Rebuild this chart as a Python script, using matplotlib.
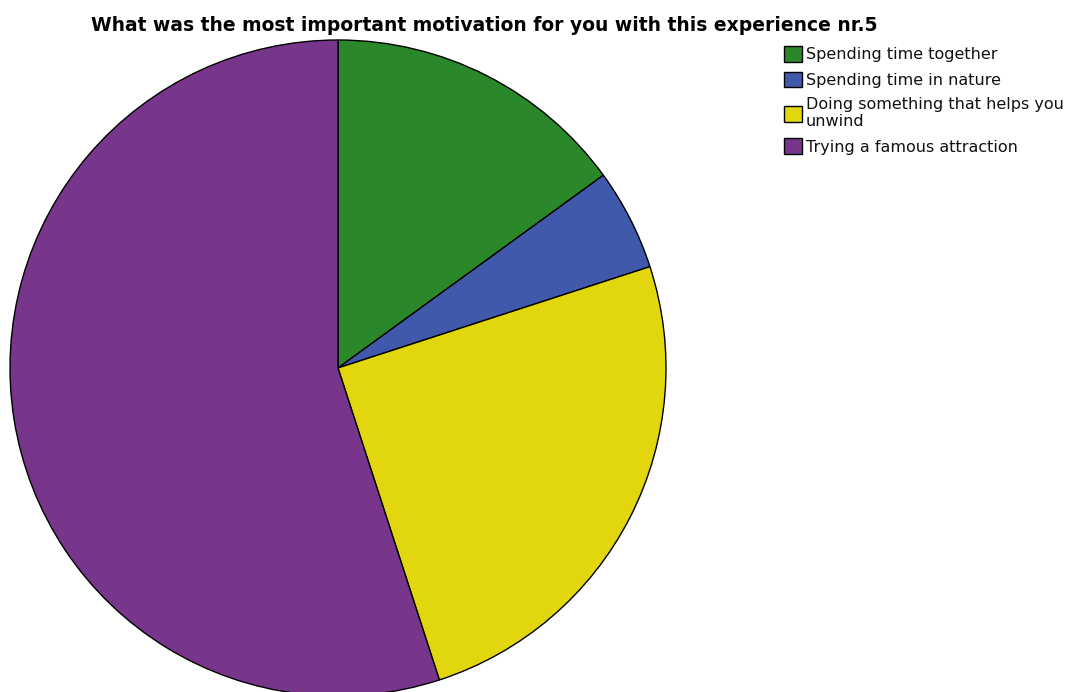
import matplotlib.pyplot as plt

# responses per motivation (share of 20 answers)
labels = ["Spending time together", "Spending time in nature",
          "Doing something that helps you\nunwind", "Trying a famous attraction"]
counts = [3, 1, 5, 11]
colors = ["#2A872A", "#4059AA", "#E2D60E", "#77368B"]

W, H = 1070, 692
fig = plt.figure(figsize=(W / 100, H / 100), dpi=100)
ax = fig.add_axes([0, 0, 1, 1])

wedges, _ = ax.pie(counts, colors=colors, startangle=90, counterclock=False,
                   center=(338, H - 368), radius=328,
                   wedgeprops=dict(edgecolor="black", linewidth=1.0))
ax.set_xlim(0, W)
ax.set_ylim(0, H)
ax.set_aspect("equal")
ax.axis("off")

fig.text(91 / W, 1 - 31 / H, "What was the most important motivation for you with this experience nr.5",
         fontsize=13.5, fontweight="bold", family="DejaVu Sans", va="baseline", ha="left")

leg = ax.legend(wedges, labels, loc="upper left", bbox_to_anchor=(784 / W, 1 - 46 / H),
                frameon=False, handlelength=1.1, handleheight=1.15, handletextpad=0.25,
                labelspacing=0.58, borderpad=0, borderaxespad=0,
                prop=dict(family="DejaVu Sans", size=11.5))
for t in leg.get_texts():
    t.set_linespacing(1.15)
    t.set_color("#111111")

fig.savefig("out.png", dpi=100)
